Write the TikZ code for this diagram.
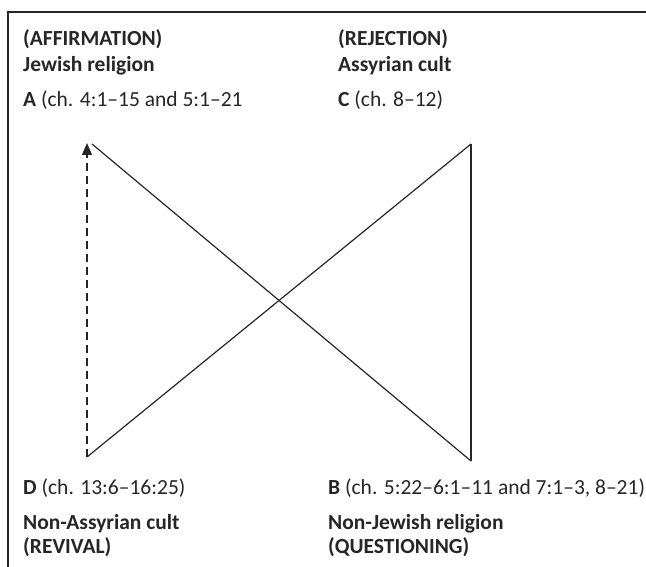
\documentclass[tikz,border=0pt]{standalone}
\usepackage{fontspec}
\setmainfont{Carlito}
\usetikzlibrary{arrows.meta}
\definecolor{ink}{HTML}{262626}
\tikzset{
  lbl/.style={anchor=base west, inner sep=0pt, text=ink, font=\fontsize{21.5}{26}\selectfont},
  edge/.style={draw=ink, line width=1.2pt},
  frame/.style={draw=ink, line width=1.4pt}
}
\begin{document}
\begin{tikzpicture}[x=1pt,y=-1pt]
\useasboundingbox (0,0) rectangle (646,567);
% frame
\coordinate (f1) at (646,12);
\coordinate (f2) at (8,12);
\coordinate (f3) at (8,567);
\draw[frame] (f1) -- (f2) -- (f3);
% vertices
\coordinate (A) at (87,143);
\coordinate (Ar) at (92,144);
\coordinate (B) at (471,461);
\coordinate (C) at (471,144);
\coordinate (D) at (87,457);
% connectors
\draw[edge, dash pattern=on 8pt off 5pt, -{Triangle[length=12pt,width=10pt]}] (D) -- (A);
\draw[edge] (Ar) -- (B);
\draw[edge] (D) -- (C);
\draw[edge] (C) -- (B);
% labels
\node[lbl] (t1) at (23,46) {\textbf{(AFFIRMATION)}};
\node[lbl] (t2) at (23,72) {\textbf{Jewish religion}};
\node[lbl] (t3) at (23,107) {\textbf{A} (ch. 4:1–15 and 5:1–21};
\node[lbl] (t4) at (338,46) {\textbf{(REJECTION)}};
\node[lbl] (t5) at (338,72) {\textbf{Assyrian cult}};
\node[lbl] (t6) at (338,107) {\textbf{C} (ch. 8–12)};
\node[lbl] (b1) at (23,494) {\textbf{D} (ch. 13:6–16:25)};
\node[lbl] (b2) at (23,529) {\textbf{Non-Assyrian cult}};
\node[lbl] (b3) at (23,553) {\textbf{(REVIVAL)}};
\node[lbl] (b4) at (328,494) {\textbf{B} (ch. 5:22–6:1–11 and 7:1–3, 8–21)};
\node[lbl] (b5) at (328,529) {\textbf{Non-Jewish religion}};
\node[lbl] (b6) at (328,553) {\textbf{(QUESTIONING)}};
\end{tikzpicture}
\end{document}
